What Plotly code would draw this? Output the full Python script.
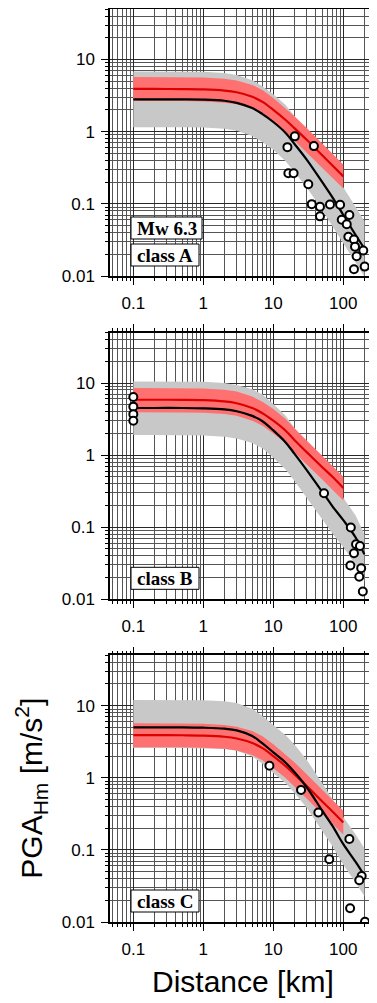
import plotly.graph_objects as go

# ---------------- data ----------------
R = [0.1, 0.2, 0.5, 1, 2, 3, 5, 7, 10, 15, 20, 30, 50, 70, 100, 150, 200]
R_RED = [0.1, 0.2, 0.5, 1, 2, 3, 5, 7, 10, 15, 20, 30, 50, 70, 100]

# class A
A_black = [2.8, 2.8, 2.8, 2.78, 2.68, 2.5, 2.12, 1.75, 1.36, 0.96, 0.68, 0.41, 0.20, 0.123, 0.07, 0.037, 0.024]
A_gray_hi = [6.8, 6.8, 6.8, 6.75, 6.5, 6.1, 5.15, 4.25, 3.3, 2.33, 1.65, 1.0, 0.49, 0.30, 0.17, 0.09, 0.058]
A_gray_lo = [1.15, 1.15, 1.15, 1.14, 1.1, 1.03, 0.87, 0.72, 0.56, 0.39, 0.28, 0.168, 0.082, 0.050, 0.029, 0.0152, 0.0098]
A_red = [3.9, 3.9, 3.89, 3.85, 3.71, 3.51, 3.04, 2.58, 2.0, 1.45, 1.12, 0.77, 0.47, 0.34, 0.24]
A_red_hi = [5.7, 5.7, 5.68, 5.62, 5.42, 5.12, 4.44, 3.77, 2.92, 2.12, 1.64, 1.12, 0.69, 0.50, 0.35]
A_red_lo = [2.65, 2.65, 2.65, 2.62, 2.52, 2.39, 2.07, 1.75, 1.36, 0.99, 0.76, 0.52, 0.32, 0.23, 0.163]
A_obs_x = [15.9, 20.3, 38, 16.4, 19.5, 31.6, 35.4, 46.4, 46.4, 64.5, 90, 95, 122, 112, 118, 142, 147, 193, 155, 142, 202]
A_obs_y = [0.61, 0.86, 0.63, 0.265, 0.265, 0.187, 0.099, 0.091, 0.067, 0.098, 0.097, 0.060, 0.070, 0.052,
           0.035, 0.032, 0.0255, 0.0225, 0.0188, 0.0124, 0.0135]

# class B
B_black = [4.5, 4.5, 4.5, 4.45, 4.3, 4.05, 3.5, 2.95, 2.2, 1.5, 1.05, 0.62, 0.31, 0.195, 0.125, 0.072, 0.042]
B_gray_hi = [10.5, 10.5, 10.5, 10.4, 10.0, 9.4, 8.2, 6.9, 5.1, 3.5, 2.4, 1.4, 0.68, 0.42, 0.26, 0.145, 0.08]
B_gray_lo = [1.9, 1.9, 1.9, 1.87, 1.8, 1.7, 1.47, 1.24, 0.92, 0.63, 0.44, 0.26, 0.13, 0.082, 0.053, 0.030, 0.0176]
B_red = [5.86, 5.86, 5.84, 5.78, 5.56, 5.24, 4.5, 3.81, 3.0, 2.18, 1.62, 1.1, 0.68, 0.50, 0.35]
B_red_hi = [8.5, 8.5, 8.47, 8.38, 8.06, 7.6, 6.5, 5.5, 4.35, 3.16, 2.35, 1.6, 0.99, 0.72, 0.5]
B_red_lo = [3.93, 3.93, 3.91, 3.87, 3.73, 3.51, 3.0, 2.55, 2.0, 1.46, 1.09, 0.74, 0.46, 0.335, 0.235]
B_obs_x = [0.1, 0.1, 0.1, 0.1, 53, 128, 152, 173, 142, 126, 180, 169, 190]
B_obs_y = [6.4, 4.7, 3.7, 3.0, 0.296, 0.099, 0.058, 0.055, 0.0435, 0.0295, 0.027, 0.0206, 0.0128]

# class C
C_black = [5.0, 5.0, 5.0, 4.95, 4.8, 4.55, 3.8, 3.0, 2.25, 1.62, 1.2, 0.74, 0.35, 0.215, 0.12, 0.068, 0.044]
C_gray_hi = [12.0, 12.0, 12.0, 11.9, 11.5, 10.9, 9.1, 7.2, 5.4, 3.9, 2.9, 1.78, 0.84, 0.51, 0.285, 0.163, 0.105]
C_gray_lo = [2.6, 2.6, 2.6, 2.57, 2.5, 2.37, 1.98, 1.56, 1.17, 0.84, 0.62, 0.385, 0.182, 0.112, 0.062, 0.035, 0.023]
C_red = [3.9, 3.9, 3.89, 3.85, 3.71, 3.51, 3.04, 2.58, 2.0, 1.45, 1.12, 0.77, 0.47, 0.34, 0.24]
C_red_hi = [5.7, 5.7, 5.68, 5.62, 5.42, 5.12, 4.44, 3.77, 2.92, 2.12, 1.64, 1.12, 0.69, 0.50, 0.35]
C_red_lo = [2.65, 2.65, 2.65, 2.62, 2.52, 2.39, 2.07, 1.75, 1.36, 0.99, 0.76, 0.52, 0.32, 0.23, 0.163]
C_obs_x = [8.8, 24.9, 44, 63, 122, 183, 169, 125, 204]
C_obs_y = [1.47, 0.68, 0.33, 0.074, 0.142, 0.0435, 0.038, 0.0155, 0.0101]

X_TICKS = [0.1, 1, 10, 100]
X_TICKTEXT = ["0.1", "1", "10", "100"]
Y_TICKS = [0.01, 0.1, 1, 10]
Y_TICKTEXT = ["0.01", "0.1", "1", "10"]

LABELS = [["Mw 6.3", "class A"], ["class B"], ["class C"]]

# ---------------- figure ----------------
OFF = 8  # default page body margin of the written html
W, H = 377 - OFF, 1003 - OFF
ML, MR, MT, MB = 110 - OFF, 1, 9 - OFF, 81
PW, PH = W - ML - MR, H - MT - MB
GRAY = "rgb(200,200,200)"
PINK = "rgb(255,112,112)"
RED = "rgb(220,0,0)"

panels = [
    (A_black, A_gray_hi, A_gray_lo, A_red, A_red_hi, A_red_lo, A_obs_x, A_obs_y),
    (B_black, B_gray_hi, B_gray_lo, B_red, B_red_hi, B_red_lo, B_obs_x, B_obs_y),
    (C_black, C_gray_hi, C_gray_lo, C_red, C_red_hi, C_red_lo, C_obs_x, C_obs_y),
]
# panel extents in page pixels (top, bottom)
panel_px = [(9, 276), (332.6, 599.3), (655.3, 922)]

def py2paper(py):
    return (MT + PH - (py - OFF)) / PH

def px2paper(px):
    return ((px - OFF) - ML) / PW

fig = go.Figure()
for i, (blk, ghi, glo, red, rhi, rlo, ox, oy) in enumerate(panels):
    xa = "x" if i == 0 else f"x{i+1}"
    ya = "y" if i == 0 else f"y{i+1}"
    fig.add_trace(go.Scatter(x=R + R[::-1], y=ghi + glo[::-1], fill="toself", fillcolor=GRAY,
                             line=dict(width=0), mode="lines", xaxis=xa, yaxis=ya, hoverinfo="skip"))
    fig.add_trace(go.Scatter(x=R_RED + R_RED[::-1], y=rhi + rlo[::-1], fill="toself", fillcolor=PINK,
                             line=dict(width=0), mode="lines", xaxis=xa, yaxis=ya, hoverinfo="skip"))
    fig.add_trace(go.Scatter(x=R_RED, y=red, mode="lines", line=dict(color=RED, width=2.2, shape="spline"),
                             xaxis=xa, yaxis=ya))
    fig.add_trace(go.Scatter(x=R, y=blk, mode="lines", line=dict(color="black", width=2.2, shape="spline"),
                             xaxis=xa, yaxis=ya))
    fig.add_trace(go.Scatter(x=ox, y=oy, mode="markers",
                             marker=dict(size=8, color="white", line=dict(color="black", width=2)),
                             xaxis=xa, yaxis=ya))

def axis_common():
    return dict(
        type="log", showline=True, linecolor="black", linewidth=1.5, mirror="ticks",
        ticks="outside", ticklen=7, tickwidth=1, tickcolor="black",
        showgrid=True, gridcolor="rgb(40,40,40)", gridwidth=1, zeroline=False,
        minor=dict(dtick="D1", ticks="outside", ticklen=3, tickwidth=1, tickcolor="black",
                   showgrid=True, gridcolor="rgb(85,85,85)", gridwidth=1),
        tickfont=dict(family="Liberation Sans, Arial, sans-serif", size=17, color="black"),
    )

layout = dict(width=W, height=H, margin=dict(l=ML, r=MR, t=MT, b=MB, autoexpand=False),
              paper_bgcolor="white", plot_bgcolor="white", showlegend=False, hovermode=False)
annotations = []
shapes = []
for i, (top, bot) in enumerate(panel_px):
    suf = "" if i == 0 else str(i + 1)
    xax = axis_common()
    xax.update(domain=[0, 1], anchor="y" + suf, range=[-1.333, 2.467],
               tickvals=X_TICKS, ticktext=X_TICKTEXT, ticklabelstandoff=4)
    yax = axis_common()
    yax.update(domain=[py2paper(bot), py2paper(top)], anchor="x" + suf, range=[-2, 1.699],
               tickvals=Y_TICKS, ticktext=Y_TICKTEXT, ticklabelstandoff=3)
    layout["xaxis" + suf] = xax
    layout["yaxis" + suf] = yax

    # label boxes, stacked from the bottom of the panel upward
    labels = LABELS[i]
    b = bot - 10
    boxes = []
    for lab in reversed(labels):
        wbox = 71 if "Mw" in lab else 68
        boxes.append((lab, b - 22, b, wbox))
        b = b - 22 - 5
    for lab, t, bb, wbox in boxes:
        x0, x1 = 131, 131 + wbox
        shapes.append(dict(type="rect", xref="paper", yref="paper",
                           x0=px2paper(x0), x1=px2paper(x1), y0=py2paper(bb), y1=py2paper(t),
                           fillcolor="white", line=dict(color="black", width=1), layer="above"))
        annotations.append(dict(xref="paper", yref="paper", x=px2paper((x0 + x1) / 2),
                                y=py2paper((t + bb) / 2 + 0.5), text="<b>" + lab + "</b>",
                                showarrow=False, xanchor="center", yanchor="middle",
                                font=dict(family="Liberation Serif, Times New Roman, serif", size=19,
                                          color="black")))

annotations.append(dict(xref="paper", yref="paper", x=px2paper(243), y=py2paper(981.7),
                        text="Distance [km]", showarrow=False, xanchor="center", yanchor="middle",
                        font=dict(family="Liberation Sans, Arial, sans-serif", size=30, color="black")))
annotations.append(dict(xref="paper", yref="paper", x=px2paper(31), y=py2paper(788.7),
                        text="PGA<sub>Hm</sub> [m/s<sup>2</sup>]", textangle=-90, showarrow=False,
                        xanchor="center", yanchor="middle",
                        font=dict(family="Liberation Sans, Arial, sans-serif", size=30, color="black")))
layout["annotations"] = annotations
layout["shapes"] = shapes
fig.update_layout(**layout)
fig.write_html("out.html")
